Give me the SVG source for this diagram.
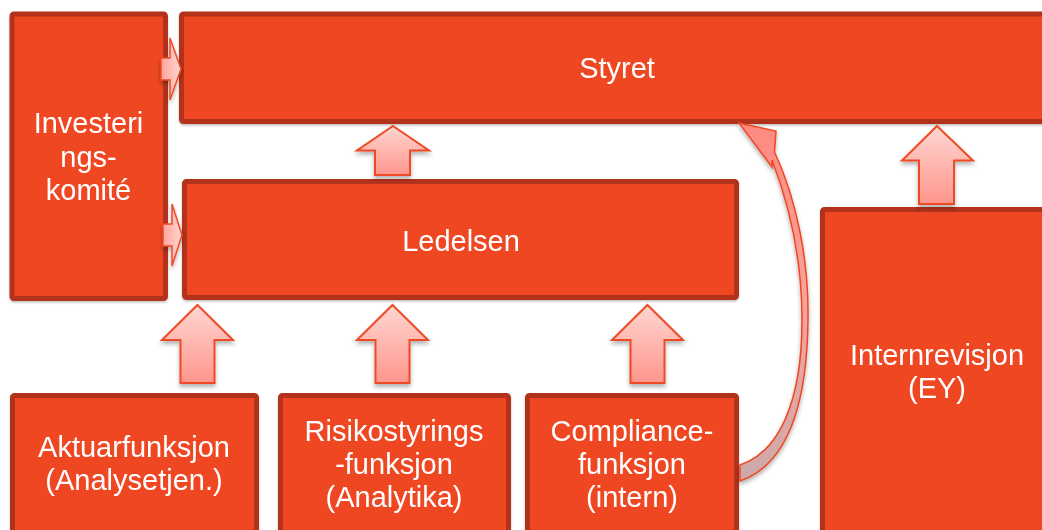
<svg xmlns="http://www.w3.org/2000/svg" width="1042" height="530" viewBox="0 0 1042 530">
<defs>
<linearGradient id="ag" x1="0" y1="0" x2="0" y2="1">
<stop offset="0" stop-color="#FFD6D2"/>
<stop offset="1" stop-color="#FF968C"/>
</linearGradient>
<linearGradient id="agh" x1="0" y1="0" x2="1" y2="0">
<stop offset="0" stop-color="#FFA49C"/>
<stop offset="1" stop-color="#FFD6D2"/>
</linearGradient>
<linearGradient id="cg" x1="0" y1="0" x2="0" y2="1">
<stop offset="0" stop-color="#FF8A80"/>
<stop offset="0.5" stop-color="#F7A49C"/>
<stop offset="1" stop-color="#CBAAAA"/>
</linearGradient>
<filter id="sh" x="-20%" y="-20%" width="140%" height="150%">
<feDropShadow dx="0" dy="3" stdDeviation="2" flood-color="#000" flood-opacity="0.3"/>
</filter>
<filter id="bsh" x="-5%" y="-5%" width="110%" height="115%">
<feDropShadow dx="0" dy="1.5" stdDeviation="1.2" flood-color="#000" flood-opacity="0.25"/>
</filter>
</defs>
<style>
.box{fill:#EF4724;stroke:#B3301B;stroke-width:5;}
.lbl{font-family:"Liberation Sans",Arial,sans-serif;font-size:29px;fill:#FFFFFF;text-anchor:middle;}
.arr{fill:url(#ag);stroke:#F04A25;stroke-width:2;stroke-linejoin:miter;}
.arrh{fill:url(#agh);stroke:#F04A25;stroke-width:1.5;}
.curve{fill:url(#cg);stroke:#EE4623;stroke-width:1.5;stroke-linejoin:miter;}
</style>
<rect width="1042" height="530" fill="#FFFFFF"/>

<g id="investeringskomite" filter="url(#bsh)">
<rect class="box" x="12" y="14" width="153.5" height="284.5" rx="2"/>
<text class="lbl" x="88.5" y="133">Investeri</text>
<text class="lbl" x="88.5" y="167">ngs-</text>
<text class="lbl" x="88.5" y="200">komité</text>
</g>

<g id="styret" filter="url(#bsh)">
<rect class="box" x="181.5" y="14" width="880" height="107.5" rx="2"/>
<text class="lbl" x="617" y="78">Styret</text>
</g>

<g id="ledelsen" filter="url(#bsh)">
<rect class="box" x="184.5" y="181.5" width="552" height="116" rx="2"/>
<text class="lbl" x="461" y="251">Ledelsen</text>
</g>

<g id="aktuarfunksjon" filter="url(#bsh)">
<rect class="box" x="12.5" y="395.5" width="244" height="160" rx="2"/>
<text class="lbl" x="134" y="457">Aktuarfunksjon</text>
<text class="lbl" x="134" y="490">(Analysetjen.)</text>
</g>

<g id="risikostyring" filter="url(#bsh)">
<rect class="box" x="280.5" y="395.5" width="228" height="160" rx="2"/>
<text class="lbl" x="394" y="441">Risikostyrings</text>
<text class="lbl" x="394" y="474">-funksjon</text>
<text class="lbl" x="394" y="507">(Analytika)</text>
</g>

<g id="compliance" filter="url(#bsh)">
<rect class="box" x="527.5" y="395.5" width="209" height="160" rx="2"/>
<text class="lbl" x="632" y="441">Compliance-</text>
<text class="lbl" x="632" y="474">funksjon</text>
<text class="lbl" x="632" y="507">(intern)</text>
</g>

<g id="internrevisjon" filter="url(#bsh)">
<rect class="box" x="822.5" y="209.5" width="240" height="340" rx="2"/>
<text class="lbl" x="937" y="365">Internrevisjon</text>
<text class="lbl" x="937" y="398">(EY)</text>
</g>

<g id="connectors">
<path class="arrh" filter="url(#sh)" d="M161,58 L170,58 L170,38 L181,69 L170,100 L170,80 L161,80 Z"/>
<path class="arrh" filter="url(#sh)" d="M163,224 L172,224 L172,204 L182,235 L172,266 L172,246 L163,246 Z"/>
<path class="arr" filter="url(#sh)" d="M393,126 L429,150.5 L410,150.5 L410,175 L375,175 L375,150.5 L357,150.5 Z"/>
<path class="arr" filter="url(#sh)" d="M937,126 L973,160.5 L954,160.5 L954,204 L919,204 L919,160.5 L902,160.5 Z"/>
<path class="arr" filter="url(#sh)" d="M197.5,305 L233,340 L214.5,340 L214.5,383 L180.5,383 L180.5,340 L162,340 Z"/>
<path class="arr" filter="url(#sh)" d="M392.5,305 L428,340 L409.5,340 L409.5,383 L375.5,383 L375.5,340 L357,340 Z"/>
<path class="arr" filter="url(#sh)" d="M647.5,305 L683,340 L664.5,340 L664.5,383 L630.5,383 L630.5,340 L612,340 Z"/>
<path class="curve" filter="url(#sh)" d="M739,123 L776,131 L774.5,152 C797,200 809,262 808,320 C807,410 786,465 740,481 L740,465 C779,452 802,402 802,320 C802,264 792,212 772,160 L772,167 Z"/>
</g>
</svg>
